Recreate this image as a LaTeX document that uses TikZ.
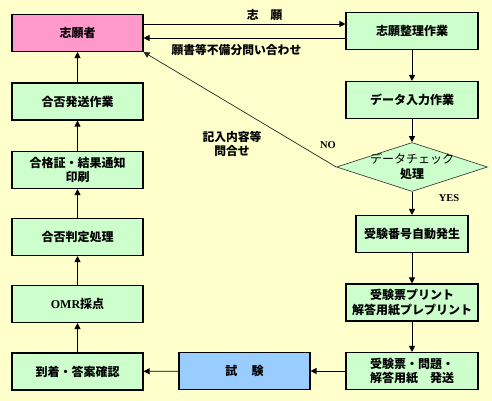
\documentclass[tikz,border=0pt]{standalone}
\usepackage{fontspec}
\setmainfont{Liberation Serif}
\newfontfamily\jp{Noto Sans CJK JP}
\usetikzlibrary{arrows.meta,shapes.geometric}
\definecolor{bgYellow}{HTML}{FFFFCC}
\definecolor{stepGreen}{HTML}{CCFFCC}
\definecolor{startPink}{HTML}{FF99CC}
\definecolor{examBlue}{HTML}{99CCFF}

\begin{document}
\begin{tikzpicture}[x=1pt, y=-1pt,
  box/.style={draw, line width=1.1pt, minimum width=131pt, minimum height=37pt,
    inner sep=1pt, align=center, font=\jp\bfseries\fontsize{12}{14.5}\selectfont},
  stepbox/.style={box, fill=stepGreen},
  person/.style={box, fill=startPink},
  exambox/.style={box, fill=examBlue},
  decision/.style={diamond, draw=black!75, line width=0.7pt, fill=stepGreen,
    minimum width=151pt, minimum height=49pt, inner sep=0pt},
  arr/.style={-{Triangle[length=6pt,width=6pt]}, line width=0.9pt},
  thin/.style={-{Triangle[length=6pt,width=6pt]}, line width=0.7pt, black!85},
  lbl/.style={font=\jp\bfseries\fontsize{11.8}{14}\selectfont, inner sep=1pt, align=center},
  yn/.style={font=\bfseries\fontsize{10.5}{12}\selectfont, inner sep=1pt}
]
\fill[bgYellow] (0,0) rectangle (492,401);
\useasboundingbox (0,0) rectangle (492,401);

% left column
\node[person] (applicant) at (77.5,33) {志願者};
\node[stepbox] (dispatch) at (77.5,101.5) {合否発送作業};
\node[stepbox] (notice) at (77.5,170) {合格証・結果通知\\印刷};
\node[stepbox] (judge) at (77.5,237) {合否判定処理};
\node[stepbox] (omr) at (77.5,304) {{\rmfamily OMR}採点};
\node[stepbox] (arrival) at (77.5,371.5) {到着・答案確認};
\node[exambox] (exam) at (244.5,371) {試\hspace{1.2em}験};

% right column
\node[stepbox, minimum width=132pt] (sorting) at (412,31) {志願整理作業};
\node[stepbox, minimum width=132pt] (entry) at (412,100) {データ入力作業};
\node[decision] (check) at (412,167) {};
\node[lbl, font=\jp\fontsize{12}{15}\selectfont] (checktxt) at (check.center) {データチェック\\{\bfseries 処理}};
\node[stepbox, minimum width=112pt] (number) at (412,234) {受験番号自動発生};
\node[stepbox, minimum width=132pt] (print) at (412,302.5) {受験票プリント\\解答用紙プレプリント};
\node[stepbox, minimum width=132pt] (send) at (412,371) {受験票・問題・\\解答用紙　発送};

\draw[arr] ([yshift=9pt]applicant.east) -- node[lbl, pos=0.6, above=2pt]{志　願} ([yshift=7pt]sorting.west);
\draw[arr] ([yshift=-7pt]sorting.west) -- node[lbl, pos=0.54, below=4.5pt]{願書等不備分問い合わせ} ([yshift=-5pt]applicant.east);
\draw[arr] (sorting) -- (entry);
\draw[arr] (entry) -- (check);
\draw[arr] (check) -- (number);
\draw[arr] (number) -- (print);
\draw[arr] (print) -- (send);
\draw[arr] (send) -- (exam);
\draw[arr] (exam) -- (arrival);
\draw[arr] (arrival) -- (omr);
\draw[arr] (omr) -- (judge);
\draw[arr] (judge) -- (notice);
\draw[arr] (notice) -- (dispatch);
\draw[arr] (dispatch) -- (applicant);
\draw[thin] (check.west) -- (applicant.south east);

\node[lbl] (inquiry) at (232,144) {記入内容等\\問合せ};
\node[yn] (no) at (328,145) {NO};
\node[yn] (yes) at (449,198) {YES};
\end{tikzpicture}
\end{document}
